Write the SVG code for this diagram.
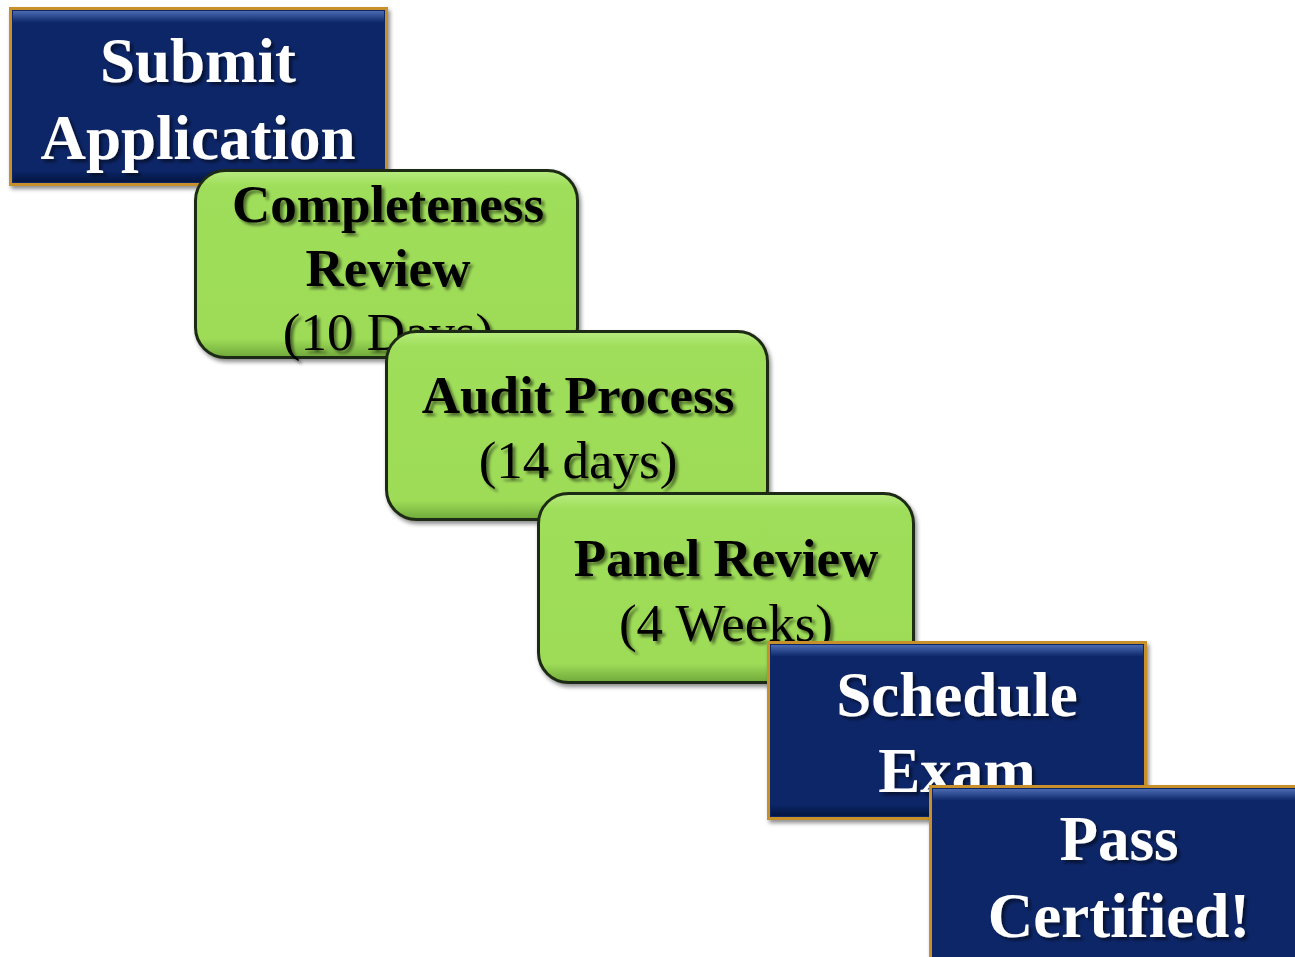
<svg xmlns="http://www.w3.org/2000/svg" width="1295" height="957" viewBox="0 0 1295 957">
<defs>
  <linearGradient id="greenGrad" x1="0" y1="0" x2="0" y2="1">
    <stop offset="0" stop-color="#B8EC80"/>
    <stop offset="0.08" stop-color="#9FDE5A"/>
    <stop offset="0.9" stop-color="#9EDC58"/>
    <stop offset="1" stop-color="#6FA83A"/>
  </linearGradient>
  <linearGradient id="blueTop" x1="0" y1="0" x2="0" y2="1">
    <stop offset="0" stop-color="#4A6AB0"/>
    <stop offset="1" stop-color="#0A2567"/>
  </linearGradient>
  <linearGradient id="blueBot" x1="0" y1="0" x2="0" y2="1">
    <stop offset="0" stop-color="#0A2567"/>
    <stop offset="1" stop-color="#041640"/>
  </linearGradient>
  <filter id="boxShadow" x="-10%" y="-10%" width="125%" height="125%">
    <feGaussianBlur in="SourceAlpha" stdDeviation="2"/>
    <feOffset dx="2" dy="3"/>
    <feComponentTransfer><feFuncA type="linear" slope="0.45"/></feComponentTransfer>
    <feMerge><feMergeNode/><feMergeNode in="SourceGraphic"/></feMerge>
  </filter>
  <filter id="txtShadow" x="-10%" y="-20%" width="125%" height="150%">
    <feGaussianBlur in="SourceAlpha" stdDeviation="1.5"/>
    <feOffset dx="2.5" dy="2.5"/>
    <feComponentTransfer><feFuncA type="linear" slope="0.5"/></feComponentTransfer>
    <feMerge><feMergeNode/><feMergeNode in="SourceGraphic"/></feMerge>
  </filter>
</defs>
<style>
  .blue { fill: #0A2567; stroke: #C8902A; stroke-width: 3; }
  .green { fill: url(#greenGrad); stroke: #1E2A12; stroke-width: 3; }
  .wt { font-family: "Liberation Serif", "Times New Roman", serif; font-weight: bold; font-size: 63px; fill: #FFFFFF; text-anchor: middle; }
  .bt { font-family: "Liberation Serif", "Times New Roman", serif; font-weight: bold; font-size: 53px; fill: #000000; text-anchor: middle; }
  .nt { font-family: "Liberation Serif", "Times New Roman", serif; font-weight: normal; font-size: 53px; fill: #000000; text-anchor: middle; }
</style>
<rect width="1295" height="957" fill="#FFFFFF"/>
<g id="connectors"/>

<g id="submit-application">
  <rect class="blue" x="10.5" y="8.5" width="376" height="176" filter="url(#boxShadow)"/>
  <rect x="13" y="11" width="371" height="12" fill="url(#blueTop)"/>
  <rect x="13" y="171" width="371" height="11" fill="url(#blueBot)"/>
  <g filter="url(#txtShadow)">
    <text class="wt" x="198" y="82">Submit</text>
    <text class="wt" x="198" y="159">Application</text>
  </g>
</g>

<g id="completeness-review">
  <rect class="green" x="195.5" y="170.5" width="382" height="187" rx="30" filter="url(#boxShadow)"/>
  <g filter="url(#txtShadow)">
    <text class="bt" x="388" y="222">Completeness</text>
    <text class="bt" x="388" y="286">Review</text>
    <text class="nt" x="388" y="350">(10 Days)</text>
  </g>
</g>

<g id="audit-process">
  <rect class="green" x="386.5" y="331.5" width="381" height="188" rx="30" filter="url(#boxShadow)"/>
  <g filter="url(#txtShadow)">
    <text class="bt" x="578" y="413">Audit Process</text>
    <text class="nt" x="578" y="478">(14 days)</text>
  </g>
</g>

<g id="panel-review">
  <rect class="green" x="538.5" y="493.5" width="375" height="189" rx="30" filter="url(#boxShadow)"/>
  <g filter="url(#txtShadow)">
    <text class="bt" x="726" y="576">Panel Review</text>
    <text class="nt" x="726" y="641">(4 Weeks)</text>
  </g>
</g>

<g id="schedule-exam">
  <rect class="blue" x="768.5" y="642.5" width="377" height="176" filter="url(#boxShadow)"/>
  <rect x="771" y="645" width="372" height="12" fill="url(#blueTop)"/>
  <rect x="771" y="805" width="372" height="11" fill="url(#blueBot)"/>
  <g filter="url(#txtShadow)">
    <text class="wt" x="957" y="716">Schedule</text>
    <text class="wt" x="957" y="792">Exam</text>
  </g>
</g>

<g id="pass-certified">
  <rect class="blue" x="930.5" y="786.5" width="370" height="180" filter="url(#boxShadow)"/>
  <rect x="933" y="789" width="365" height="12" fill="url(#blueTop)"/>
  <g filter="url(#txtShadow)">
    <text class="wt" x="1119" y="860">Pass</text>
    <text class="wt" x="1119" y="937">Certified!</text>
  </g>
</g>
</svg>
